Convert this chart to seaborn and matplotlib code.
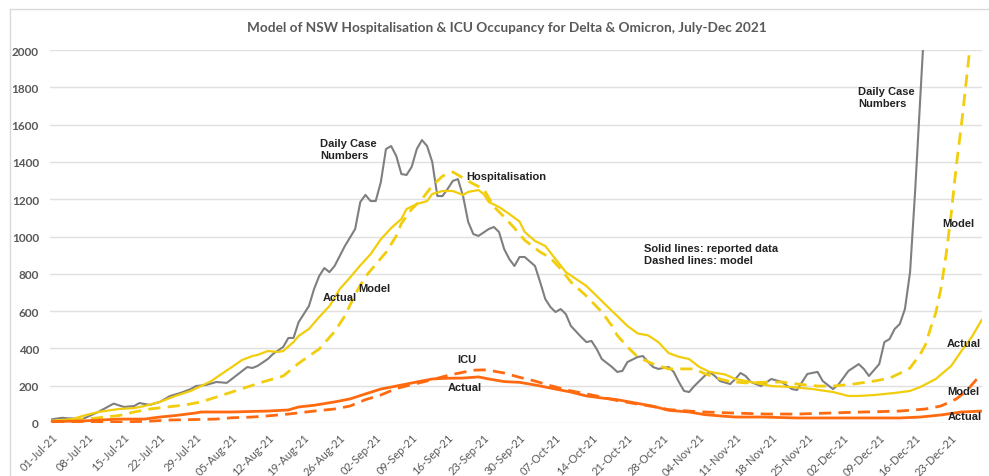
import numpy as np
import pandas as pd
import matplotlib
matplotlib.use("Agg")
import matplotlib.pyplot as plt
import matplotlib.dates as mdates
from matplotlib.lines import Line2D
import seaborn as sns

START = "2021-07-01"

# ---- data (day offset from 01-Jul-2021, value) ----
case_day = [0, 2, 3, 6, 9, 12, 14, 16, 17, 19, 21, 23, 25, 27, 28, 30, 32, 34, 35, 37, 38, 39, 40, 42, 43,
            45, 46, 47, 48, 50, 51, 52, 53, 54, 55, 56, 57, 59, 60, 61, 62, 63, 64, 65, 66, 67, 68, 69, 70,
            71, 72, 73, 74, 75, 76, 77, 78, 79, 80, 81, 82, 83, 85, 86, 87, 88, 89, 90, 91, 92, 94, 95, 96,
            97, 98, 99, 100, 101, 103, 104, 105, 106, 107, 109, 110, 111, 112, 114, 115, 116, 117, 118, 120,
            121, 122, 123, 124, 125, 127, 128, 129, 130, 132, 133, 134, 135, 136, 138, 140, 142, 144, 145,
            147, 149, 150, 152, 153, 155, 157, 158, 159, 161, 162, 163, 164, 165, 166, 167, 168, 169, 170]
case_val = [20, 28, 25, 22, 59, 104, 86, 91, 107, 97, 113, 145, 161, 182, 198, 204, 220, 215, 236, 279, 300,
            295, 306, 343, 370, 408, 456, 456, 541, 627, 718, 788, 831, 809, 842, 895, 949, 1040, 1185, 1223,
            1190, 1190, 1292, 1469, 1485, 1432, 1335, 1330, 1373, 1469, 1517, 1485, 1400, 1217, 1217, 1255,
            1298, 1308, 1217, 1078, 1013, 1003, 1040, 1051, 1024, 933, 879, 842, 890, 890, 842, 756, 665,
            622, 595, 611, 584, 520, 461, 434, 440, 397, 343, 300, 274, 279, 327, 354, 359, 327, 300, 290,
            300, 274, 220, 172, 166, 198, 252, 274, 252, 225, 209, 236, 268, 252, 220, 198, 236, 220, 182,
            177, 263, 274, 225, 182, 204, 279, 316, 290, 252, 316, 434, 450, 504, 531, 611, 809, 1250, 1750,
            2250]

hosp_day = [0, 4, 6, 9, 13, 16, 18, 21, 24, 27, 29, 31, 33, 35, 37, 39, 40, 42, 44, 45, 47, 48, 50, 52, 54,
            56, 58, 60, 62, 64, 66, 68, 69, 71, 73, 74, 76, 78, 80, 81, 83, 84, 85, 87, 89, 91, 92, 94, 96, 98,
            100, 102, 104, 106, 108, 110, 112, 114, 116, 118, 120, 122, 124, 126, 128, 131, 133, 136, 138,
            140, 144, 148, 152, 155, 157, 160, 164, 167, 169, 172, 175, 177, 179, 181]
hosp_val = [11, 21, 38, 59, 75, 80, 91, 113, 145, 172, 198, 225, 263, 300, 338, 359, 365, 386, 381, 386, 434,
            467, 504, 568, 627, 718, 780, 845, 905, 985, 1045, 1094, 1147, 1174, 1190, 1228, 1244, 1244,
            1223, 1239, 1249, 1228, 1185, 1158, 1121, 1080, 1024, 976, 949, 879, 809, 772, 735, 681, 627,
            574, 520, 480, 470, 434, 375, 355, 343, 300, 274, 260, 236, 220, 209, 198, 193, 182, 166, 145,
            145, 150, 161, 172, 193, 236, 306, 386, 461, 555]

hmod_day = [0, 7, 13, 16, 19, 26, 29, 32, 35, 38, 41, 45, 48, 52, 55, 57, 59, 61, 63, 65, 67, 68, 70, 72, 74,
            76, 78, 79, 82, 84, 86, 88, 90, 92, 95, 97, 99, 101, 104, 107, 109, 110, 112, 114, 117, 120, 122,
            125, 127, 130, 132, 135, 138, 142, 145, 149, 152, 156, 160, 163, 166, 167, 169, 170, 171, 172,
            173, 174, 175, 176, 177, 178, 179]
hmod_val = [10, 22, 40, 59, 75, 97, 113, 139, 166, 193, 220, 252, 320, 397, 490, 574, 690, 785, 850, 915,
            1003, 1070, 1147, 1201, 1271, 1324, 1346, 1330, 1282, 1255, 1160, 1105, 1045, 980, 917, 885, 826,
            756, 681, 595, 520, 470, 408, 354, 316, 290, 290, 290, 265, 236, 222, 215, 218, 220, 209, 198,
            198, 209, 225, 240, 280, 295, 370, 420, 510, 590, 720, 900, 1120, 1380, 1600, 1850, 2100]

icu_day = [0, 6, 13, 18, 21, 24, 28, 29, 35, 39, 42, 46, 48, 51, 55, 58, 61, 64, 67, 71, 74, 77, 80, 83, 85,
           88, 91, 94, 98, 101, 104, 107, 110, 114, 117, 120, 124, 127, 130, 133, 138, 145, 152, 158, 165,
           169, 173, 177, 181]
icu_val = [8, 11, 21, 21, 32, 40, 54, 59, 59, 62, 64, 70, 86, 95, 113, 129, 156, 182, 198, 220, 236, 240,
           241, 247, 236, 222, 218, 204, 182, 166, 145, 134, 125, 105, 90, 68, 59, 45, 38, 32, 32, 27, 27,
           27, 27, 32, 43, 59, 64]

imod_day = [0, 6, 13, 19, 23, 32, 35, 39, 42, 46, 51, 55, 58, 61, 64, 67, 71, 74, 77, 80, 82, 84, 86, 88, 91,
            94, 97, 101, 104, 107, 110, 113, 117, 120, 126, 132, 139, 145, 152, 158, 165, 170, 173, 176,
            178, 180, 181]
imod_val = [5, 8, 5, 10, 16, 21, 28, 32, 38, 48, 64, 75, 91, 125, 150, 185, 212, 232, 255, 272, 283, 285,
            278, 268, 245, 225, 200, 172, 156, 139, 120, 106, 88, 72, 60, 54, 48, 48, 54, 59, 64, 75, 91,
            129, 172, 236, 252]

tick_days = list(range(0, 176, 7))

TITLE = "Model of NSW Hospitalisation & ICU Occupancy for Delta & Omicron, July-Dec 2021"

GREY = "#7f7f7f"
YELLOW = "#f2cd0c"
ORANGE = "#ff6a10"
TXT = "#595959"


def to_dates(days):
    return pd.Timestamp(START) + pd.to_timedelta(days, unit="D")


sns.set_theme(style="white")
plt.rcParams["font.family"] = ["Lato", "DejaVu Sans"]

W, H = 989, 477
fig = plt.figure(figsize=(W / 100, H / 100), dpi=100)
L, R, T, B = 50, 982, 51, 424
ax = fig.add_axes([L / W, 1 - B / H, (R - L) / W, (B - T) / H])

dash = (0, (4.4, 2.6))
series = [
    (case_day, case_val, GREY, "-", 1.5),
    (hosp_day, hosp_val, YELLOW, "-", 1.6),
    (hmod_day, hmod_val, YELLOW, dash, 2.0),
    (icu_day, icu_val, ORANGE, "-", 2.0),
    (imod_day, imod_val, ORANGE, dash, 2.0),
]
for d, v, c, ls, lw in series:
    df = pd.DataFrame({"date": to_dates(d), "value": v})
    sns.lineplot(data=df, x="date", y="value", ax=ax, color=c, linestyle=ls, lw=lw,
                 solid_capstyle="round", dash_capstyle="butt")

ax.set_ylim(0, 2000)
ax.set_xlim(pd.Timestamp(START) - pd.Timedelta(days=0.39), pd.Timestamp(START) + pd.Timedelta(days=181.0))
ax.set_yticks(range(0, 2001, 200))
ax.set_xticks(to_dates(tick_days))
ax.xaxis.set_major_formatter(mdates.DateFormatter("%d-%b-%y"))
ax.set_xlabel("")
ax.set_ylabel("")
ax.grid(axis="y", color="#e0e0e0", lw=1.0)
ax.grid(axis="x", visible=False)
ax.set_axisbelow(True)
for s in ax.spines.values():
    s.set_visible(False)
ax.tick_params(axis="both", length=0)
ax.tick_params(axis="y", pad=8, labelsize=8.5, labelcolor=TXT)
ax.tick_params(axis="x", pad=6, labelsize=8, labelcolor=TXT)
for lab in ax.get_yticklabels():
    lab.set_fontweight("bold")
for lab in ax.get_xticklabels():
    lab.set_rotation(45)
    lab.set_ha("right")
    lab.set_rotation_mode("anchor")

fig.text(507 / W, 1 - 28 / H, TITLE, ha="center", va="center", fontsize=9.8,
         fontweight="bold", color=TXT, family=["Lato", "DejaVu Sans"])

# chart frame
fig.add_artist(Line2D([10 / W, 1], [1 - 10 / H, 1 - 10 / H], color="#d9d9d9", lw=1))
fig.add_artist(Line2D([10 / W, 10 / W], [0, 1 - 10 / H], color="#d9d9d9", lw=1))


def note(px, py, s):
    ax.text((px - L) / (R - L), (B - py) / (B - T), s, transform=ax.transAxes, ha="left", va="center",
            fontsize=8, fontweight="bold", color="#222222", family=["Liberation Sans", "DejaVu Sans"],
            linespacing=1.15)


note(320, 150, "Daily Case\nNumbers")
note(466, 177, "Hospitalisation")
note(323, 298, "Actual")
note(358, 289, "Model")
note(457, 360, "ICU")
note(448, 388, "Actual")
note(644, 255, "Solid lines: reported data\nDashed lines: model")
note(858, 98, "Daily Case\nNumbers")
note(942, 224, "Model")
note(947, 344, "Actual")
note(947, 392, "Model")
note(948, 417, "Actual")

fig.savefig("out.png", dpi=100, facecolor="white")
